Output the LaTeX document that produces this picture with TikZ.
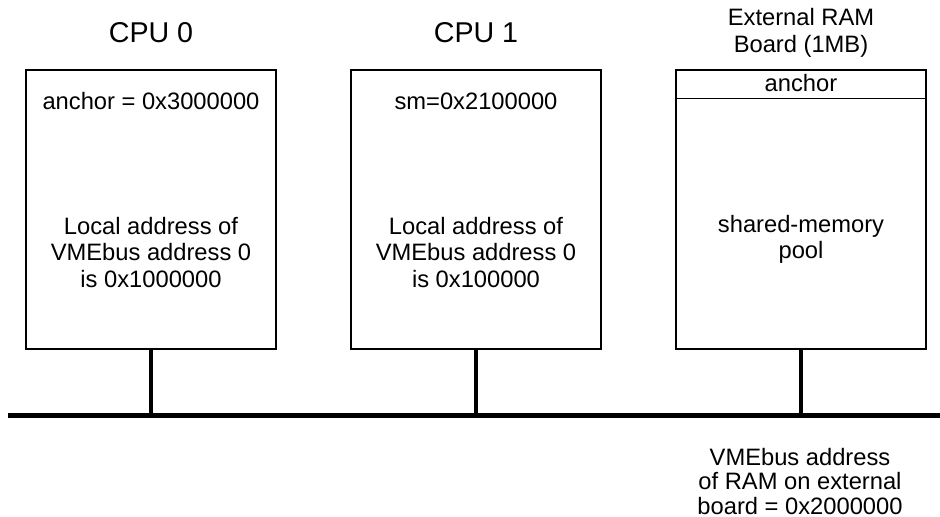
\documentclass[tikz,border=0pt]{standalone}
\usepackage{fontspec}
\setmainfont{Liberation Sans}
\begin{document}
\begin{tikzpicture}[
  board/.style={draw,line width=0.6pt,minimum width=5cm,minimum height=5.58cm,inner sep=0pt},
  txt/.style={inner sep=0pt,align=center,font=\fontsize{13.5}{15}\selectfont},
  title/.style={inner sep=0pt,anchor=base,font=\fontsize{16.3}{19}\selectfont},
  bus/.style={line width=2.8pt}]
\useasboundingbox (0,0) rectangle (18.8,10.34);
% boards
\node[board] (cpuA) at (3.02,6.15) {};
\node[board] (cpuB) at (9.52,6.15) {};
\node[board] (ram) at (16.02,6.15) {};
\draw[line width=0.6pt] ([yshift=-0.574cm]ram.north west)--([yshift=-0.574cm]ram.north east);
% titles
\node[title] (tA) at (3.02,9.486) {CPU 0};
\node[title] (tB) at (9.52,9.486) {CPU 1};
\node[txt,anchor=base] (tR) at (16.02,9.82) {External RAM};
\node[txt,anchor=base] (tR2) at (16.02,9.29) {Board (1MB)};
% box contents
\node[txt,anchor=base] (anc) at (3.02,8.154) {anchor = 0x3000000};
\node[txt,anchor=base] (sm) at (9.52,8.154) {sm=0x2100000};
\node[txt,anchor=base] (ancR) at (16.02,8.51) {anchor};
\node[txt] (locA) at (3.02,5.29) {Local address of\\VMEbus address 0\\is 0x1000000};
\node[txt] (locB) at (9.52,5.29) {Local address of\\VMEbus address 0\\is 0x100000};
\node[txt] (pool) at (16.02,5.55) {shared-memory\\pool};
% bus
\coordinate (busL) at (0.16,2.03);
\coordinate (busR) at (18.8,2.03);
\draw[bus] (busL)--(busR);
\draw[bus] (cpuA.south)--(cpuA.south |- busL);
\draw[bus] (cpuB.south)--(cpuB.south |- busL);
\draw[bus] (ram.south)--(ram.south |- busL);
\node[txt,font=\fontsize{13.5}{14}\selectfont] (vme) at (16.0,0.71) {VMEbus address\\of RAM on external\\board = 0x2000000};
\end{tikzpicture}
\end{document}
